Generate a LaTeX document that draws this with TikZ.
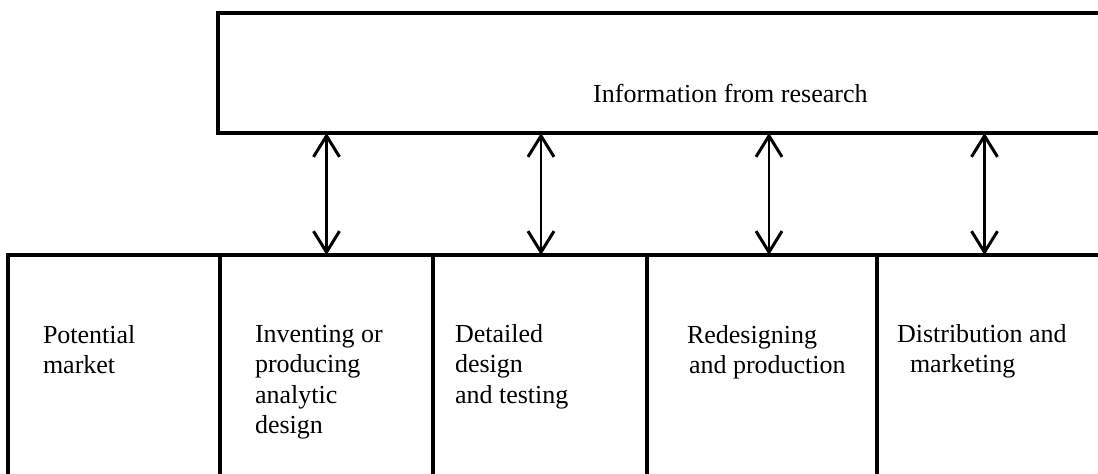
\documentclass[tikz,border=0pt]{standalone}
\usepackage{fontspec}
\setmainfont{Liberation Serif}
\usetikzlibrary{arrows.meta}

\begin{document}
\begin{tikzpicture}[x=1pt,y=-1pt,
  frame/.style={line width=3.2pt, line cap=rect},
  area/.style={draw=none, inner sep=0pt, outer sep=0pt, anchor=north west},
  label/.style={inner sep=0pt, outer sep=0pt, anchor=north west, align=left,
    font=\fontsize{26pt}{30.5pt}\selectfont},
  link/.style={line width=2.3pt,
    {Straight Barb[length=21pt,width=26pt,line width=3pt]}-{Straight Barb[length=21pt,width=26pt,line width=3pt]}}
]
% page
\fill[white] (0,0) rectangle (1098,474);
\useasboundingbox (0,0) rectangle (1098,474);

% research box (open to the right)
\node[area, minimum width=880pt, minimum height=120pt] (research) at (218,13) {};
\draw[frame] (research.north east) -- (research.north west)
  -- (research.south west) -- (research.south east);
\node[anchor=base west, inner sep=0pt, font=\fontsize{26pt}{30.5pt}\selectfont]
  (researchtext) at (593,102) {Information from research};

% stage boxes along the bottom
\node[area, minimum width=212pt, minimum height=219pt] (s1) at (8,255) {};
\node[area, minimum width=213pt, minimum height=219pt] (s2) at (220,255) {};
\node[area, minimum width=214pt, minimum height=219pt] (s3) at (433,255) {};
\node[area, minimum width=230pt, minimum height=219pt] (s4) at (647,255) {};
\node[area, minimum width=221pt, minimum height=219pt] (s5) at (877,255) {};
\draw[frame] (s1.south west) -- (s1.north west) -- (s5.north east);
\foreach \s in {s2,s3,s4,s5}
  \draw[frame] (\s.north west) -- (\s.south west);

% stage texts (first baseline 22pt below the anchor)
\node[label] (t1) at (43,321) {\rule{0pt}{22pt}Potential\\market};
\node[label] (t2) at (255,320) {\rule{0pt}{22pt}Inventing or\\producing\\analytic\\design};
\node[label] (t3) at (455,320) {\rule{0pt}{22pt}Detailed\\design\\and testing};
\node[label] (t4) at (687,321) {\rule{0pt}{22pt}Redesigning\\\hspace*{2pt}and production};
\node[label] (t5) at (897,320) {\rule{0pt}{22pt}Distribution and\\\hspace*{13pt}marketing};

% exchange of information with research
\coordinate (p2) at (s2.north);
\coordinate (p3) at ([xshift=1pt]s3.north);
\coordinate (p4) at ([xshift=7pt]s4.north);
\coordinate (p5) at ([xshift=-3pt]s5.north);
\foreach \p in {p2,p3,p4,p5}
  \draw[link] (research.south -| \p) -- (\p);
\end{tikzpicture}
\end{document}
